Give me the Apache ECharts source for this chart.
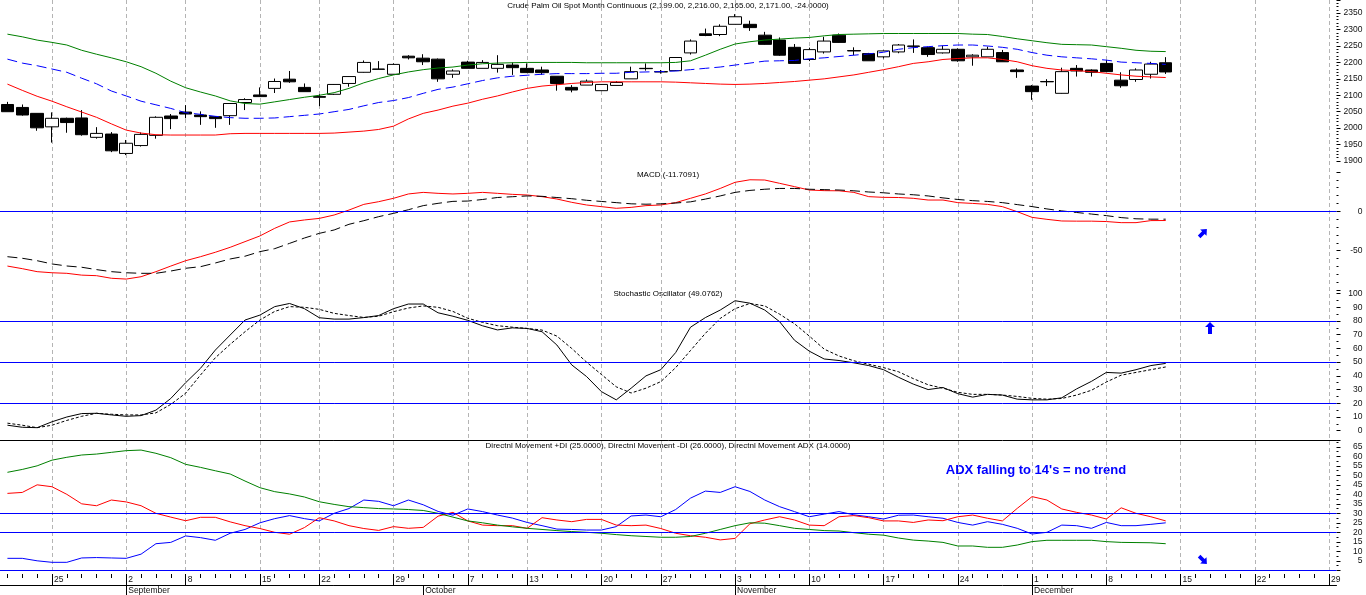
<!DOCTYPE html>
<html>
<head>
<meta charset="utf-8">
<title>Crude Palm Oil Spot Month Continuous</title>
<script src="https://cdn.jsdelivr.net/npm/echarts/dist/echarts.min.js"></script>
<style>
html, body { margin: 0; padding: 0; background: #fff; }
#chart { width: 1366px; height: 595px; }
</style>
</head>
<body>
<div id="chart"></div>
<script>
// trading days (incl. future days shown on the axis)
var dates = [
    '2014-08-20', '2014-08-21', '2014-08-22',
    '2014-08-25', '2014-08-26', '2014-08-27', '2014-08-28', '2014-08-29',
    '2014-09-02', '2014-09-03', '2014-09-04', '2014-09-05',
    '2014-09-08', '2014-09-09', '2014-09-10', '2014-09-11', '2014-09-12',
    '2014-09-15', '2014-09-17', '2014-09-18', '2014-09-19',
    '2014-09-22', '2014-09-23', '2014-09-24', '2014-09-25', '2014-09-26',
    '2014-09-29', '2014-09-30', '2014-10-01', '2014-10-02', '2014-10-03',
    '2014-10-07', '2014-10-08', '2014-10-09', '2014-10-10',
    '2014-10-13', '2014-10-14', '2014-10-15', '2014-10-16', '2014-10-17',
    '2014-10-20', '2014-10-21', '2014-10-23', '2014-10-24',
    '2014-10-27', '2014-10-28', '2014-10-29', '2014-10-30', '2014-10-31',
    '2014-11-03', '2014-11-04', '2014-11-05', '2014-11-06', '2014-11-07',
    '2014-11-10', '2014-11-11', '2014-11-12', '2014-11-13', '2014-11-14',
    '2014-11-17', '2014-11-18', '2014-11-19', '2014-11-20', '2014-11-21',
    '2014-11-24', '2014-11-25', '2014-11-26', '2014-11-27', '2014-11-28',
    '2014-12-01', '2014-12-02', '2014-12-03', '2014-12-04', '2014-12-05',
    '2014-12-08', '2014-12-09', '2014-12-10', '2014-12-11', '2014-12-12',
    '2014-12-15', '2014-12-16', '2014-12-17', '2014-12-18', '2014-12-19',
    '2014-12-22', '2014-12-23', '2014-12-24', '2014-12-25', '2014-12-26',
    '2014-12-29'
];
// tick labels
var weekStarts = ['2014-08-25', '2014-09-02', '2014-09-08', '2014-09-15', '2014-09-22', '2014-09-29',
    '2014-10-07', '2014-10-13', '2014-10-20', '2014-10-27', '2014-11-03', '2014-11-10', '2014-11-17',
    '2014-11-24', '2014-12-01', '2014-12-08', '2014-12-15', '2014-12-22', '2014-12-29'];
var monthStarts = ['2014-09-02', '2014-10-01', '2014-11-03', '2014-12-01'];
var monthNames = ['September', 'October', 'November', 'December'];
var priceLabels = [1900, 1950, 2000, 2050, 2100, 2150, 2200, 2250, 2300, 2350];
var macdLabels = [0, -50];
var stochLabels = [0, 10, 20, 30, 40, 50, 60, 70, 80, 90, 100];
var dmiLabels = [5, 10, 15, 20, 25, 30, 35, 40, 45, 50, 55, 60, 65];

// price candles
var open = [2072, 2063, 2045, 2004, 2030, 2031, 1972, 1982, 1923, 1947,
    1978, 2037, 2049, 2040, 2035, 2038, 2078, 2101, 2121, 2149,
    2124, 2096, 2103, 2136, 2170, 2180, 2164, 2219, 2213, 2210,
    2164, 2201, 2182, 2182, 2192, 2182, 2177, 2158, 2124, 2131,
    2114, 2130, 2150, 2182, 2172, 2175, 2229, 2287, 2285, 2316,
    2316, 2283, 2268, 2246, 2209, 2232, 2283, 2236, 2227, 2217,
    2232, 2250, 2245, 2229, 2240, 2217, 2217, 2230, 2177, 2128,
    2142, 2106, 2182, 2177, 2197, 2146, 2148, 2164, 2199];
var high = [2080, 2072, 2045, 2048, 2032, 2055, 2003, 1988, 1964, 1987,
    2036, 2043, 2070, 2051, 2036, 2075, 2091, 2124, 2151, 2174,
    2136, 2103, 2134, 2158, 2206, 2204, 2197, 2222, 2225, 2212,
    2179, 2205, 2207, 2222, 2200, 2197, 2187, 2158, 2131, 2148,
    2134, 2143, 2187, 2197, 2177, 2216, 2270, 2303, 2316, 2347,
    2327, 2293, 2276, 2256, 2245, 2278, 2288, 2246, 2229, 2236,
    2256, 2270, 2248, 2251, 2243, 2225, 2248, 2238, 2182, 2131,
    2149, 2184, 2192, 2179, 2207, 2170, 2182, 2202, 2216];
var low = [2050, 2038, 1992, 1956, 1986, 1977, 1968, 1927, 1918, 1944,
    1968, 1997, 2030, 2010, 2001, 2010, 2055, 2095, 2107, 2138,
    2111, 2067, 2101, 2126, 2169, 2179, 2163, 2209, 2192, 2141,
    2153, 2182, 2182, 2169, 2162, 2168, 2162, 2114, 2109, 2131,
    2114, 2130, 2150, 2175, 2166, 2174, 2224, 2280, 2280, 2316,
    2296, 2254, 2220, 2196, 2204, 2227, 2260, 2222, 2205, 2212,
    2228, 2229, 2217, 2227, 2202, 2190, 2217, 2202, 2153, 2086,
    2128, 2105, 2157, 2157, 2171, 2123, 2141, 2151, 2165];
var close = [2050, 2040, 2001, 2030, 2017, 1980, 1984, 1931, 1954, 1981,
    2033, 2029, 2043, 2035, 2029, 2075, 2087, 2096, 2142, 2141,
    2111, 2094, 2133, 2157, 2200, 2179, 2194, 2214, 2202, 2150,
    2174, 2182, 2200, 2194, 2184, 2169, 2169, 2136, 2116, 2143,
    2133, 2139, 2172, 2181, 2171, 2215, 2265, 2282, 2310, 2339,
    2306, 2255, 2222, 2197, 2239, 2265, 2261, 2235, 2205, 2235,
    2253, 2249, 2224, 2240, 2205, 2222, 2240, 2202, 2172, 2111,
    2141, 2172, 2174, 2170, 2172, 2129, 2177, 2195, 2171];

// bands on the price panel
var upperBand = [2286, 2278, 2268, 2261, 2253, 2237, 2225, 2214, 2202, 2187,
    2167, 2143, 2123, 2110, 2098, 2083, 2075, 2073, 2080, 2087,
    2094, 2100, 2108, 2121, 2138, 2151, 2162, 2171, 2178, 2183,
    2186, 2192, 2196, 2198, 2199, 2200, 2200, 2200, 2200, 2199,
    2199, 2199, 2199, 2199, 2199, 2200, 2205, 2222, 2240, 2256,
    2263, 2268, 2271, 2274, 2276, 2281, 2285, 2286, 2287, 2288,
    2288, 2288, 2288, 2288, 2288, 2286, 2285, 2279, 2272, 2266,
    2260, 2255, 2254, 2253, 2248, 2243, 2237, 2234, 2233];
var middleBand = [2210, 2198, 2190, 2180, 2170, 2152, 2135, 2113, 2098, 2082,
    2071, 2060, 2047, 2042, 2036, 2032, 2030, 2030, 2031, 2035,
    2039, 2043, 2050, 2057, 2068, 2078, 2084, 2093, 2106, 2118,
    2125, 2135, 2145, 2153, 2158, 2161, 2164, 2166, 2166, 2166,
    2167, 2167, 2170, 2171, 2172, 2174, 2178, 2182, 2186, 2192,
    2198, 2204, 2205, 2206, 2211, 2214, 2218, 2222, 2226, 2231,
    2240, 2245, 2248, 2251, 2253, 2253, 2250, 2246, 2240, 2230,
    2222, 2217, 2214, 2211, 2207, 2201, 2199, 2197, 2194];
var lowerBand = [2134, 2115, 2097, 2082, 2065, 2049, 2033, 2013, 1994, 1985,
    1980, 1979, 1979, 1979, 1979, 1983, 1984, 1984, 1984, 1984,
    1984, 1984, 1985, 1988, 1991, 1996, 2006, 2028, 2045, 2055,
    2067, 2076, 2088, 2098, 2110, 2121, 2128, 2132, 2136, 2139,
    2141, 2141, 2141, 2141, 2141, 2140, 2138, 2136, 2134, 2133,
    2134, 2136, 2139, 2142, 2146, 2150, 2156, 2162, 2170, 2178,
    2187, 2197, 2202, 2209, 2212, 2214, 2214, 2209, 2202, 2190,
    2182, 2177, 2175, 2172, 2167, 2162, 2158, 2156, 2154];

// MACD
var macdLine = [-69.5, -72.8, -76.6, -78, -78.7, -81, -81.7, -85, -86, -83,
    -76.6, -69.5, -62.7, -57.6, -52, -45.7, -38.5, -31.3, -21.6, -13.5,
    -11, -9, -4.7, 1.6, 8.8, 12.2, 16.5, 22, 24, 22.8,
    22, 22.8, 24, 22.8, 21.5, 20.7, 18.6, 15.6, 11.4, 8,
    5.9, 3.8, 5, 7.2, 8, 11, 16.5, 22, 29, 36.8,
    40, 39.7, 35.5, 31.3, 27, 26.2, 26, 24, 18.6, 17.7,
    17.5, 16.5, 14.3, 14.3, 11, 10, 8.8, 5.9, -0.5, -7.7,
    -10.2, -12.3, -12.5, -12.5, -13, -14.4, -14.4, -11.8, -11.71];
var signalLine = [-57.6, -59.6, -62.7, -66.8, -69.4, -71, -74, -76.6, -78, -78.7,
    -78.7, -75.8, -72.3, -70.3, -65.6, -60.5, -57, -51.2, -47.4, -40.7,
    -33.9, -28, -23.7, -16.5, -11.9, -6.8, -2.6, 2, 7.2, 10.1,
    12.6, 13, 15, 17.5, 18.5, 19.5, 19, 17.5, 16, 14,
    12.5, 11, 9.5, 9, 9.5, 10.5, 12, 15.5, 19.5, 24,
    26.5, 28, 29, 29, 28, 27.5, 27, 26, 24.5, 23.5,
    22, 21, 19.5, 17, 15, 13.5, 12.5, 11, 8.5, 6,
    3, 0.5, -1.5, -3.5, -5.5, -8, -9.5, -10, -10];

// Stochastic oscillator
var stochK = [4, 2.5, 2.2, 6.5, 10, 12.5, 12.7, 11.5, 10.5, 11,
    15, 23.5, 35, 45.5, 58.8, 69.8, 80.7, 84.3, 90.5, 92.8,
    89, 82.4, 81.4, 81.4, 82.5, 84, 89, 92.4, 92.4, 86,
    83.5, 80.5, 76.5, 73.5, 75, 74.6, 72.2, 62.5, 48, 39.5,
    28.5, 22.5, 31, 40, 44.5, 57, 75.5, 82.5, 88, 94.8,
    93, 88, 79.5, 66, 58, 52.3, 51.2, 49.5, 47.5, 44.5,
    39, 34, 30, 31.5, 27, 24.5, 26.5, 26, 23, 22.5,
    22.5, 24, 30.5, 36, 42.5, 42, 44.5, 47.5, 49.08];
var stochD = [5.5, 4, 2.2, 4, 7.5, 10.5, 12.7, 12, 11.5, 11.5,
    13, 19.2, 27.3, 40.6, 53.2, 63, 72.2, 80.7, 87, 90.5,
    90, 88.5, 85.6, 84, 82.6, 83.5, 86.8, 89.5, 91, 90,
    87, 82, 79, 76.6, 75.5, 74.6, 73.4, 69, 60, 50,
    41, 32, 27.5, 31, 35.8, 46, 58.5, 71, 81.9, 89,
    92.8, 91, 85, 78, 69, 59.5, 54.5, 51, 48.5, 46,
    43, 38, 33.5, 31, 28, 26.5, 26.5, 26, 25, 23.6,
    23, 23.5, 26, 29.5, 35.5, 40.5, 42.5, 44.5, 46.5];

// Directional movement
var plusDI = [6.3, 6.3, 5, 4.2, 4.2, 6.5, 6.7, 6.5, 6.3, 8.5,
    14, 14.7, 18.1, 17.2, 15.8, 19.5, 21.5, 25, 27.2, 28.8,
    27.2, 26, 30, 32.5, 37, 36.3, 34, 37, 34.5, 31,
    29, 32.3, 30.9, 29.1, 27.5, 25.2, 23.5, 21.7, 21.5, 21.2,
    21.2, 23, 28.6, 29.1, 28.2, 32, 38, 41.7, 41, 44,
    41.5, 37, 33.5, 30.9, 28.2, 29.6, 30.9, 29.2, 28.2, 27,
    29, 29.1, 28.2, 27.4, 25.2, 23.8, 25.6, 24.2, 22.1, 19.1,
    20, 23.8, 23.5, 22.1, 25.2, 23.5, 23.5, 24.2, 25];
var minusDI = [40.5, 41, 45, 44, 40, 35, 34, 37, 36, 34,
    30, 28, 26.1, 27.9, 27.9, 25.5, 23.5, 22, 20, 19,
    22.5, 27.7, 26, 23.5, 22, 21, 23, 22.1, 22.6, 28.5,
    30.5, 26, 23.8, 23.5, 23.5, 22.1, 27.7, 26.5, 25.6, 26.8,
    26.8, 23.8, 23.5, 23.8, 22, 19.5, 18.2, 17.4, 16, 16.8,
    24.5, 26.5, 28.2, 26.5, 23.8, 23.5, 28.2, 28.8, 27.7, 26,
    26, 25.2, 26.5, 26.1, 28.2, 29.1, 27.4, 26, 32.6, 38.8,
    37, 32.3, 30.5, 29.1, 27, 32.9, 30, 28.2, 26];
var adxLine = [51.6, 53.1, 55, 58, 59.5, 60.7, 61.2, 62.1, 63, 63.3,
    61.6, 59.3, 55.8, 54.2, 52.4, 50.7, 47, 43.5, 41.4, 40.2,
    38.6, 36.1, 34.7, 33.5, 33, 32.5, 32.3, 32, 31.5, 30,
    28, 26, 25, 23.8, 22.9, 22.1, 21.5, 20.9, 20.4, 20,
    19.5, 18.8, 18.2, 17.8, 17.4, 17.4, 17.8, 19.5, 21.5, 23.5,
    25, 24.8, 23.5, 22.1, 21.5, 20.9, 20.7, 19.8, 19, 18.5,
    17, 15.9, 15.4, 14.7, 12.8, 12.8, 12.1, 12.1, 13.3, 15.1,
    15.8, 15.8, 15.8, 15.8, 15.1, 14.7, 14.6, 14.5, 14];

var FONT = '"Liberation Sans", Arial, sans-serif';
var PLOT_W = 1336.5;
var BLUE = '#0000ff';

function isWeekStart(idx, value) {
    return weekStarts.indexOf(value) >= 0;
}
function isMonthStart(idx, value) {
    return monthStarts.indexOf(value) >= 0;
}

var candles = open.map(function(o, i) {
    return [o, close[i], low[i], high[i]];
});

function hiddenX(gridIndex) {
    return {
        type: 'category', gridIndex: gridIndex, data: dates, show: false, boundaryGap: true,
        axisLine: { onZero: false }
    };
}

function rightY(gridIndex, min, max, interval, labels, minorSplit) {
    return {
        type: 'value',
        gridIndex: gridIndex,
        position: 'right',
        min: min,
        max: max,
        interval: interval,
        axisLine: { show: false, onZero: false },
        axisTick: { show: true, length: 4, lineStyle: { color: '#000' } },
        minorTick: { show: true, splitNumber: minorSplit, length: 2, lineStyle: { color: '#000' } },
        splitLine: { show: false },
        minorSplitLine: { show: false },
        axisLabel: {
            show: true,
            align: 'right',
            margin: 26,
            fontSize: 8.5,
            fontFamily: FONT,
            color: '#111',
            formatter: function(v) {
                return labels.indexOf(v) >= 0 ? String(v) : '';
            }
        }
    };
}

function levels(vals, color) {
    return {
        silent: true,
        symbol: ['none', 'none'],
        label: { show: false },
        emphasis: { disabled: true },
        lineStyle: { color: color, width: 1, type: 'solid' },
        data: vals.map(function(v) { return { yAxis: v }; })
    };
}

function line(data, axis, color, type) {
    return {
        type: 'line',
        xAxisIndex: axis,
        yAxisIndex: axis,
        data: data,
        symbol: 'none',
        showSymbol: false,
        silent: true,
        lineStyle: { color: color, width: 1, type: type }
    };
}

function label(x, y, text) {
    return {
        type: 'text',
        x: x,
        y: y,
        silent: true,
        style: {
            text: text, font: '8px ' + FONT, fill: '#000',
            align: 'center', verticalAlign: 'middle',
            textAlign: 'center', textVerticalAlign: 'middle'
        }
    };
}

function arrow(x, y, rot, big) {
    var pts = big ?
        [[0, -6], [5, -1], [2, -1], [2, 6], [-2, 6], [-2, -1], [-5, -1]] :
        [[0, -5.5], [4.5, -0.5], [1.8, -0.5], [1.8, 5.5], [-1.8, 5.5], [-1.8, -0.5], [-4.5, -0.5]];
    return {
        type: 'polygon', x: x, y: y, rotation: rot, silent: true,
        shape: { points: pts },
        style: { fill: BLUE }
    };
}

var macdSeries = line(macdLine, 1, '#ff0000', 'solid');
macdSeries.markLine = levels([0], BLUE);
var kSeries = line(stochK, 2, '#000', 'solid');
kSeries.markLine = levels([80, 50, 20], BLUE);
var plusSeries = line(plusDI, 3, BLUE, 'solid');
plusSeries.markLine = levels([30, 20, 0], BLUE);

var myChart = echarts.init(document.getElementById('chart'));

var options = {
    animation: false,
    backgroundColor: '#fff',
    grid: [
        { left: 0, top: 0, width: PLOT_W, height: 161, outerBoundsMode: 'none' },
        { left: 0, top: 171.9, width: PLOT_W, height: 118.2, outerBoundsMode: 'none' },
        { left: 0, top: 293.6, width: PLOT_W, height: 137.1, outerBoundsMode: 'none' },
        { left: 0, top: 440.2, width: PLOT_W, height: 130.1, outerBoundsMode: 'none' },
        { left: 0, top: 574, width: PLOT_W, height: 11, outerBoundsMode: 'none' },
        { left: 0, top: 0, width: PLOT_W, height: 570.3, outerBoundsMode: 'none' }
    ],
    xAxis: [
        hiddenX(0), hiddenX(1), hiddenX(2), hiddenX(3),
        // separator line above the DMI panel
        {
            type: 'category', gridIndex: 3, data: dates, position: 'top',
            axisLine: { show: true, onZero: false, lineStyle: { color: '#000', width: 1 } },
            axisTick: { show: false }, axisLabel: { show: false }, splitLine: { show: false }
        },
        // daily ticks
        {
            type: 'category', gridIndex: 4, data: dates, position: 'top',
            axisLine: { show: false, onZero: false },
            axisTick: { show: true, inside: true, length: 4, interval: 0, alignWithLabel: true, lineStyle: { color: '#000' } },
            axisLabel: { show: false }, splitLine: { show: false }
        },
        // weekly ticks and day numbers
        {
            type: 'category', gridIndex: 4, data: dates, position: 'top',
            axisLine: { show: false, onZero: false },
            axisTick: { show: true, inside: true, length: 11, interval: isWeekStart, alignWithLabel: true, lineStyle: { color: '#000' } },
            axisLabel: {
                show: true, inside: true, interval: isWeekStart, align: 'left', verticalAlign: 'top',
                padding: [0, 0, 0, 2], margin: 1, fontSize: 8.5, fontFamily: FONT, color: '#111',
                formatter: function(v) { return String(parseInt(v.slice(8), 10)); }
            },
            splitLine: { show: false }
        },
        // month line and names
        {
            type: 'category', gridIndex: 4, data: dates, position: 'bottom',
            axisLine: { show: true, onZero: false, lineStyle: { color: '#000', width: 1 } },
            axisTick: { show: true, inside: false, length: 10, interval: isMonthStart, alignWithLabel: true, lineStyle: { color: '#000' } },
            axisLabel: {
                show: true, interval: isMonthStart, align: 'left', verticalAlign: 'top',
                padding: [0, 0, 0, 2], margin: 1, fontSize: 8.5, fontFamily: FONT, color: '#111',
                formatter: function(v) { return monthNames[monthStarts.indexOf(v)]; }
            },
            splitLine: { show: false }
        },
        // weekly dashed grid lines across all panels
        {
            type: 'category', gridIndex: 5, data: dates,
            axisLine: { show: false, onZero: false }, axisTick: { show: false }, axisLabel: { show: false },
            splitLine: {
                show: true, interval: isWeekStart, alignWithLabel: true,
                lineStyle: { color: '#b4b4b4', width: 1, type: [4, 3] }
            }
        }
    ],
    yAxis: [
        rightY(0, 1900, 2390, 50, priceLabels, 5),
        rightY(1, -100, 50, 50, macdLabels, 5),
        rightY(2, 0, 100, 10, stochLabels, 2),
        rightY(3, 0, 68.5, 5, dmiLabels, 2),
        { type: 'value', gridIndex: 4, min: 1, max: 2, show: false },
        { type: 'value', gridIndex: 5, min: 1, max: 2, show: false }
    ],
    series: [
        {
            type: 'candlestick',
            xAxisIndex: 0,
            yAxisIndex: 0,
            data: candles,
            barWidth: 13,
            silent: true,
            itemStyle: {
                color: '#fff', color0: '#000',
                borderColor: '#000', borderColor0: '#000', borderColorDoji: '#000',
                borderWidth: 1
            }
        },
        line(upperBand, 0, '#008000', 'solid'),
        line(middleBand, 0, BLUE, [10, 5]),
        line(lowerBand, 0, '#ff0000', 'solid'),
        macdSeries,
        line(signalLine, 1, '#000', [10, 5]),
        kSeries,
        line(stochD, 2, '#000', [3, 2]),
        plusSeries,
        line(minusDI, 3, '#ff0000', 'solid'),
        line(adxLine, 3, '#008000', 'solid')
    ],
    graphic: [
        label(668, 6, 'Crude Palm Oil Spot Month Continuous (2,199.00, 2,216.00, 2,165.00, 2,171.00, -24.0000)'),
        label(668, 175, 'MACD (-11.7091)'),
        label(668, 294, 'Stochastic Oscillator (49.0762)'),
        label(668, 446, 'Directnl Movement +DI (25.0000), Directnl Movement -DI (26.0000), Directnl Movement ADX (14.0000)'),
        {
            type: 'text', x: 1036, y: 470, silent: true,
            style: {
                text: "ADX falling to 14's = no trend", font: 'bold 13px ' + FONT, fill: BLUE,
                align: 'center', verticalAlign: 'middle', textAlign: 'center', textVerticalAlign: 'middle'
            }
        },
        arrow(1203, 233, -Math.PI / 4, false),
        arrow(1210, 328, 0, true),
        arrow(1203, 560, -3 * Math.PI / 4, false)
    ]
};
myChart.setOption(options);
</script>
</body>
</html>
